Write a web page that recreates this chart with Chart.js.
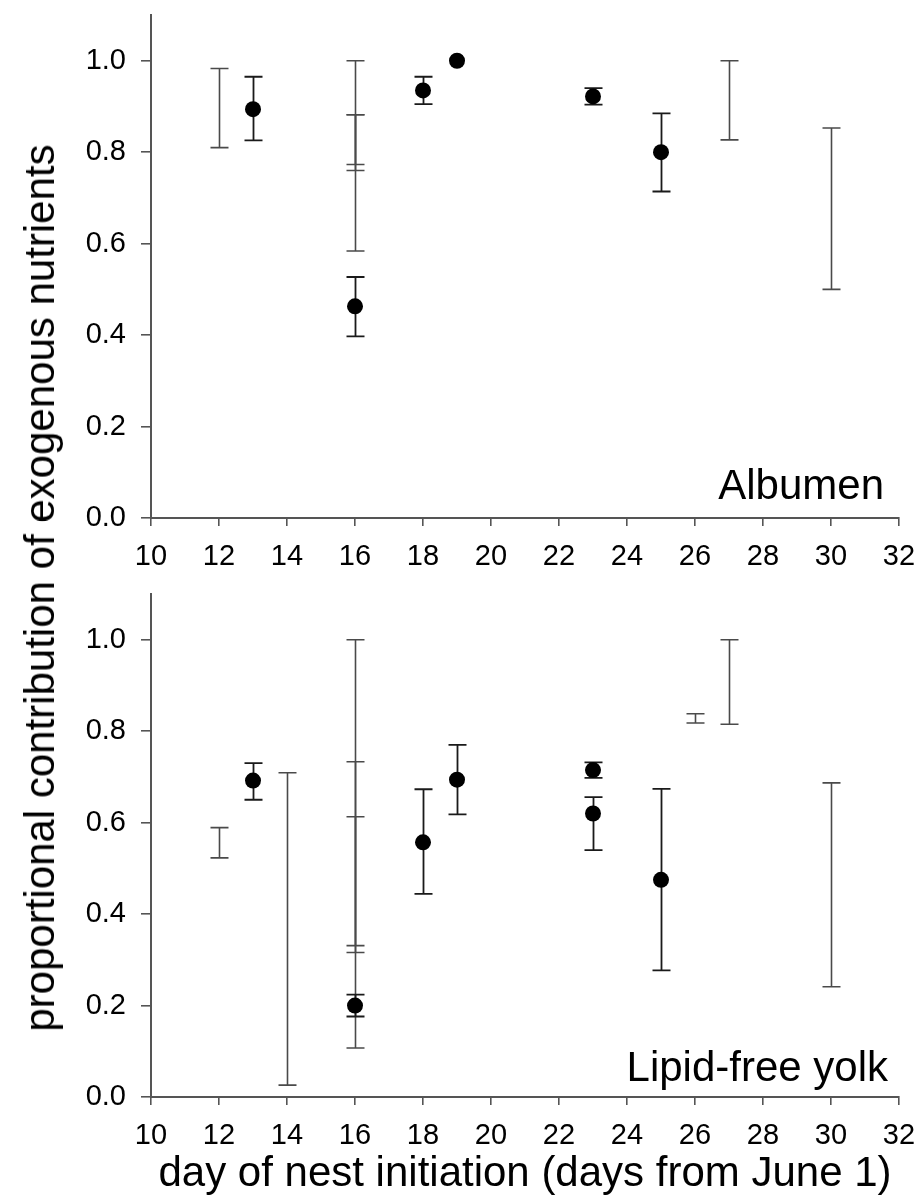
<!DOCTYPE html>
<html>
<head>
<meta charset="utf-8">
<script src="https://cdn.jsdelivr.net/npm/chart.js@4.4.1/dist/chart.umd.min.js"></script>
<style>
html,body{margin:0;padding:0;background:#fff;}
#wrap{position:relative;width:923px;height:1195px;overflow:hidden;background:#fff;}
.panel{position:absolute;left:0;width:923px;}
#ytitle{position:absolute;left:40px;top:588px;transform:translate(-50%,-50%) rotate(-90deg);white-space:nowrap;font-family:"Liberation Sans",Arial,sans-serif;font-size:42px;line-height:1;color:#000;}
</style>
</head>
<body>
<div id="wrap">
  <div class="panel" style="top:0;height:580px"><canvas id="c1"></canvas></div>
  <div class="panel" style="top:580px;height:615px"><canvas id="c2"></canvas></div>
  <div id="ytitle">proportional contribution of exogenous nutrients</div>
</div>
<script>
// ---- tick labels ----
const xTicks = [10, 12, 14, 16, 18, 20, 22, 24, 26, 28, 30, 32];
const yTicks = [0.0, 0.2, 0.4, 0.6, 0.8, 1.0];

// ---- Albumen panel ----
const albDays = [13, 16, 18, 19, 23, 25];
const albMean = [0.894, 0.463, 0.935, 1.0, 0.922, 0.800];
const albLow  = [0.826, 0.397, 0.905, 1.0, 0.904, 0.714];
const albHigh = [0.965, 0.527, 0.965, 1.0, 0.940, 0.885];
// ranges shown without a mean point
const albRangeDays = [12, 16, 16, 16, 27, 30];
const albRangeLow  = [0.810, 0.773, 0.584, 0.760, 0.827, 0.500];
const albRangeHigh = [0.983, 1.000, 0.882, 0.882, 1.000, 0.853];

// ---- Lipid-free yolk panel ----
const yolkDays = [13, 16, 18, 19, 23, 23, 25];
const yolkMean = [0.692, 0.200, 0.557, 0.694, 0.715, 0.620, 0.475];
const yolkLow  = [0.650, 0.176, 0.444, 0.618, 0.698, 0.540, 0.277];
const yolkHigh = [0.730, 0.224, 0.673, 0.770, 0.732, 0.656, 0.674];
const yolkRangeDays = [12, 14, 16, 16, 16, 26, 27, 30];
const yolkRangeLow  = [0.523, 0.026, 0.331, 0.316, 0.107, 0.818, 0.815, 0.241];
const yolkRangeHigh = [0.589, 0.709, 1.000, 0.733, 0.613, 0.838, 1.000, 0.687];

const FONT = '"Liberation Sans", Arial, sans-serif';

const errorBarPlugin = {
  id: 'errorBars',
  beforeDatasetsDraw(chart, args, opts) {
    const xs = chart.scales.x, ys = chart.scales.y, ctx = chart.ctx;
    const cap = 9;
    const drawSet = (days, lo, hi, color, width) => {
      ctx.save();
      ctx.strokeStyle = color;
      ctx.lineWidth = width;
      ctx.lineCap = 'butt';
      for (let i = 0; i < days.length; i++) {
        if (lo[i] === hi[i]) continue;
        const x = Math.round(xs.getPixelForValue(days[i])) + 0.5;
        const y1 = ys.getPixelForValue(hi[i]);
        const y2 = ys.getPixelForValue(lo[i]);
        ctx.beginPath();
        ctx.moveTo(x, y1); ctx.lineTo(x, y2);
        ctx.moveTo(x - cap, y1); ctx.lineTo(x + cap, y1);
        ctx.moveTo(x - cap, y2); ctx.lineTo(x + cap, y2);
        ctx.stroke();
      }
      ctx.restore();
    };
    drawSet(opts.rDays, opts.rLow, opts.rHigh, '#4a4a4a', 1.6);
    drawSet(opts.days, opts.low, opts.high, '#1a1a1a', 1.8);
  }
};

const panelLabelPlugin = {
  id: 'panelLabel',
  afterDraw(chart, args, opts) {
    const ctx = chart.ctx;
    ctx.save();
    ctx.font = '42px ' + FONT;
    ctx.fillStyle = '#000';
    ctx.textAlign = 'right';
    ctx.textBaseline = 'alphabetic';
    ctx.fillText(opts.text, opts.right, chart.chartArea.bottom - opts.lift);
    ctx.restore();
  }
};

function makePanel(id, cfg) {
  return new Chart(document.getElementById(id), {
    type: 'scatter',
    data: {
      datasets: [{
        data: cfg.days.map((d, i) => ({ x: d, y: cfg.mean[i] })),
        pointRadius: 8,
        pointHoverRadius: 8,
        backgroundColor: '#000',
        borderColor: '#000',
        borderWidth: 0
      }]
    },
    options: {
      responsive: true,
      maintainAspectRatio: false,
      animation: false,
      events: [],
      layout: { padding: { left: 0, right: 24, top: cfg.padTop, bottom: 0 } },
      plugins: {
        legend: { display: false },
        tooltip: { enabled: false },
        errorBars: {
          days: cfg.days, low: cfg.low, high: cfg.high,
          rDays: cfg.rDays, rLow: cfg.rLow, rHigh: cfg.rHigh
        },
        panelLabel: { text: cfg.label, right: cfg.labelRight, lift: cfg.labelLift }
      },
      scales: {
        x: {
          type: 'linear',
          position: 'bottom',
          min: 10, max: 32,
          afterBuildTicks: s => { s.ticks = xTicks.map(v => ({ value: v })); },
          afterFit: s => { s.height = cfg.xHeight; s.paddingLeft = 0; s.paddingRight = 0; },
          ticks: {
            font: { family: FONT, size: 29 },
            color: '#000',
            padding: 14,
            maxRotation: 0,
            autoSkip: false,
            callback: v => String(v)
          },
          grid: { drawOnChartArea: false, drawTicks: true, tickLength: 8, color: '#555', lineWidth: 1.6 },
          border: { display: true, color: '#555', width: 2 },
          title: cfg.xTitle ? {
            display: true,
            text: cfg.xTitle,
            font: { family: FONT, size: 42, lineHeight: 1 },
            color: '#000',
            padding: { top: 0, bottom: 0 }
          } : { display: false }
        },
        y: {
          type: 'linear',
          min: 0, max: 1.1,
          afterBuildTicks: s => { s.ticks = yTicks.map(v => ({ value: v })); },
          afterFit: s => { s.width = 151; s.paddingTop = 0; s.paddingBottom = 0; },
          ticks: {
            font: { family: FONT, size: 29 },
            color: '#000',
            padding: 15,
            callback: v => Number(v).toFixed(1)
          },
          grid: { drawOnChartArea: false, drawTicks: true, tickLength: 10, color: '#555', lineWidth: 1.6 },
          border: { display: true, color: '#555', width: 2 }
        }
      }
    },
    plugins: [errorBarPlugin, panelLabelPlugin]
  });
}

makePanel('c1', {
  days: albDays, mean: albMean, low: albLow, high: albHigh,
  rDays: albRangeDays, rLow: albRangeLow, rHigh: albRangeHigh,
  padTop: 15, xHeight: 62,
  label: 'Albumen', labelRight: 884, labelLift: 19
});

makePanel('c2', {
  days: yolkDays, mean: yolkMean, low: yolkLow, high: yolkHigh,
  rDays: yolkRangeDays, rLow: yolkRangeLow, rHigh: yolkRangeHigh,
  padTop: 14, xHeight: 98,
  label: 'Lipid-free yolk', labelRight: 888, labelLift: 16,
  xTitle: 'day of nest initiation (days from June 1)'
});
</script>
</body>
</html>
